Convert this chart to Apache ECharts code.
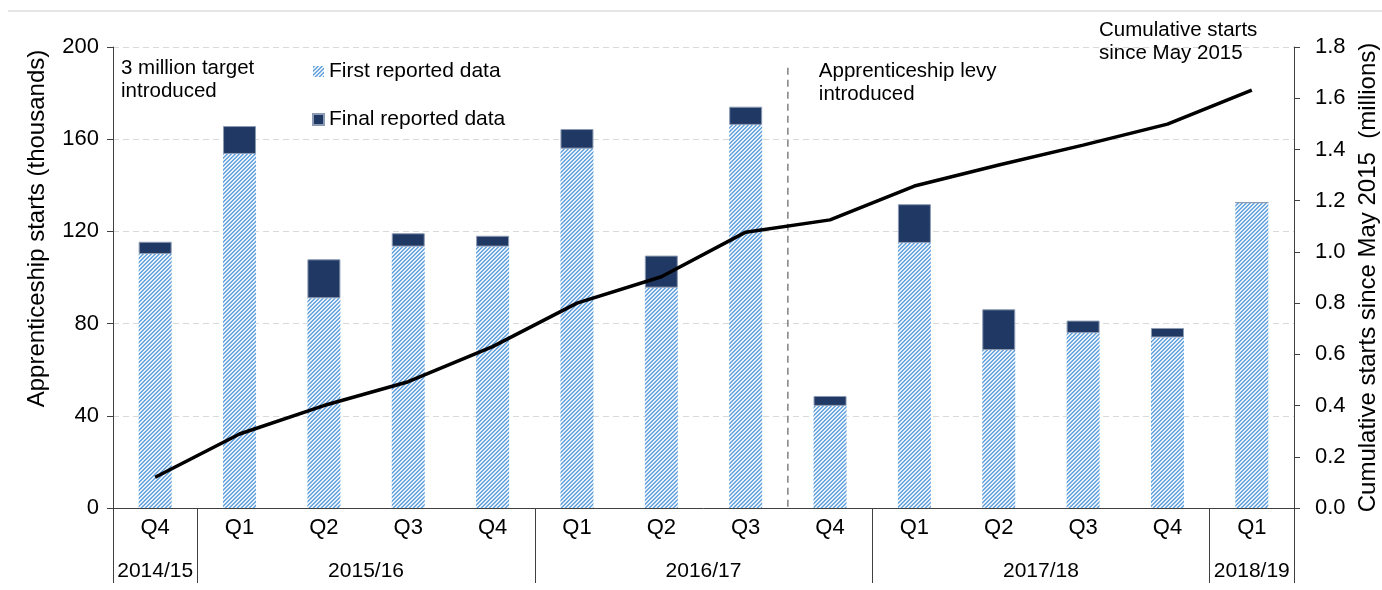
<!DOCTYPE html>
<html>
<head>
<meta charset="utf-8">
<script src="https://cdn.jsdelivr.net/npm/echarts@6/dist/echarts.min.js"></script>
<style>
  html, body { margin: 0; background: #fff; }
  #chart { width: 1382px; height: 590px; }
</style>
</head>
<body>
<div id="chart"></div>
<script>
// quarter labels (first level of the x axis)
var quarters = ['Q4', 'Q1', 'Q2', 'Q3', 'Q4', 'Q1', 'Q2', 'Q3', 'Q4', 'Q1', 'Q2', 'Q3', 'Q4', 'Q1'];
// financial years (second level) and how many quarters each one covers
var years = ['2014/15', '2015/16', '2016/17', '2017/18', '2018/19'];
var yearSpans = [1, 4, 4, 4, 1];
// apprenticeship starts, thousands
var firstReported = [110.2, 153.6, 91.0, 113.4, 113.4, 155.9, 95.6, 166.2, 44.3, 115.0, 68.5, 75.9, 74.0, 132.5];
var finalReported = [115.5, 165.7, 107.9, 119.2, 118.1, 164.4, 109.5, 174.1, 48.6, 131.8, 86.2, 81.3, 78.1, null];
// cumulative starts since May 2015, millions
var cumulative = [0.12, 0.289, 0.40, 0.493, 0.63, 0.80, 0.903, 1.077, 1.125, 1.257, 1.339, 1.417, 1.499, 1.632];

var FONT = '"Liberation Sans", Arial, sans-serif';
var TXT = '#000';

// the part that was added between first and final reporting
var revision = firstReported.map(function (v, i) {
  return finalReported[i] == null ? 0 : +(finalReported[i] - v).toFixed(1);
});

// year label positions / separators on a value axis running -0.5 .. n-0.5
var yearCenters = [], yearBounds = [-0.5], pos = -0.5;
yearSpans.forEach(function (s) {
  yearCenters.push(pos + s / 2);
  pos += s;
  yearBounds.push(pos);
});

// diagonal hatch used for the first reported bars, 2px blue / 2px light
function hatch() {
  var c = document.createElement('canvas');
  c.width = 4; c.height = 4;
  var ctx = c.getContext('2d');
  for (var x = 0; x < 4; x++) {
    for (var y = 0; y < 4; y++) {
      var k = (x + y) % 4;
      ctx.fillStyle = k === 0 ? '#5f9fdb' : k === 1 ? '#86b8e6' : k === 2 ? '#f4f8fd' : '#d6e6f6';
      ctx.fillRect(x, y, 1, 1);
    }
  }
  return c;
}

var chart = echarts.init(document.getElementById('chart'));

var option = {
  animation: false,
  textStyle: { fontFamily: FONT, color: TXT },
  grid: { left: 113, right: 88, top: 47, bottom: 82, outerBoundsMode: 'none', containLabel: false },
  legend: {
    orient: 'vertical',
    left: 307,
    top: 56,
    itemGap: 27,
    itemWidth: 11,
    itemHeight: 11,
    icon: 'rect',
    textStyle: { fontFamily: FONT, fontSize: 21, color: TXT },
    data: ['First reported data', 'Final reported data']
  },
  xAxis: [
    {
      type: 'category',
      data: quarters,
      axisLine: { lineStyle: { color: '#404040', width: 1 } },
      axisTick: { show: false },
      axisLabel: { fontSize: 22, color: TXT, margin: 9, interval: 0 }
    },
    {
      type: 'value',
      position: 'bottom',
      min: -0.5,
      max: quarters.length - 0.5,
      axisLine: { show: false },
      splitLine: { show: false },
      axisTick: {
        show: true,
        customValues: yearBounds,
        length: 75,
        lineStyle: { color: '#404040', width: 1 }
      },
      axisLabel: {
        customValues: yearCenters,
        fontSize: 21,
        color: TXT,
        margin: 53,
        formatter: function (v) {
          var i = yearCenters.indexOf(v);
          return i < 0 ? '' : years[i];
        }
      }
    }
  ],
  yAxis: [
    {
      type: 'value',
      min: 0,
      max: 200,
      interval: 40,
      name: 'Apprenticeship starts (thousands)',
      nameLocation: 'middle',
      nameGap: 64,
      nameRotate: 90,
      nameTextStyle: { fontSize: 24, color: TXT, padding: [0, 0, 0, 98] },
      axisLine: { show: true, onZero: false, lineStyle: { color: '#404040' } },
      axisTick: { show: true, length: 6, lineStyle: { color: '#404040' } },
      axisLabel: { fontSize: 22, color: TXT, margin: 14 },
      splitLine: { lineStyle: { color: '#d9d9d9', type: [6, 4], width: 1 } }
    },
    {
      type: 'value',
      min: 0,
      max: 1.8,
      interval: 0.2,
      position: 'right',
      name: 'Cumulative starts since May 2015  (millions)',
      nameLocation: 'middle',
      nameGap: 58,
      nameRotate: 90,
      nameTextStyle: { fontSize: 24, color: TXT },
      axisLine: { show: true, onZero: false, lineStyle: { color: '#404040' } },
      axisTick: { show: true, length: 6, lineStyle: { color: '#404040' } },
      axisLabel: {
        fontSize: 22, color: TXT, margin: 21,
        formatter: function (v) { return v.toFixed(1); }
      },
      splitLine: { show: false }
    }
  ],
  series: [
    {
      name: 'First reported data',
      type: 'bar',
      stack: 'starts',
      barWidth: 33,
      itemStyle: { color: { image: hatch(), repeat: 'repeat' } },
      data: firstReported
    },
    {
      name: 'Final reported data',
      type: 'bar',
      stack: 'starts',
      barWidth: 33,
      itemStyle: { color: '#203864', borderColor: '#8c9bb3', borderWidth: 1 },
      data: revision
    },
    {
      name: 'Cumulative starts',
      type: 'line',
      yAxisIndex: 1,
      data: cumulative,
      showSymbol: false,
      symbol: 'none',
      lineStyle: { color: '#000', width: 3.5 },
      z: 5
    }
  ]
};

chart.setOption(option);

// levy introduced between Q3 and Q4 of 2016/17
var xa = chart.convertToPixel({ xAxisIndex: 0 }, 7);
var xb = chart.convertToPixel({ xAxisIndex: 0 }, 8);
var levyX = (xa + xb) / 2;
var yBottom = chart.convertToPixel({ yAxisIndex: 0 }, 0);
var yTop = chart.convertToPixel({ yAxisIndex: 0 }, 191);

var annStyle = { fontFamily: FONT, fontSize: 20.5, fill: TXT, lineHeight: 23 };

chart.setOption({
  graphic: [
    {
      type: 'line', silent: true,
      shape: { x1: 8, y1: 11, x2: 1382, y2: 11 },
      style: { stroke: '#e6e6e6', lineWidth: 2 }
    },
    {
      type: 'line', silent: true,
      shape: { x1: levyX, y1: yTop, x2: levyX, y2: yBottom },
      style: { stroke: '#808080', lineWidth: 1.5, lineDash: [7, 5] }
    },
    {
      type: 'text', left: 121, top: 57,
      style: Object.assign({ text: '3 million target\nintroduced' }, annStyle)
    },
    {
      type: 'text', left: levyX + 31, top: 60,
      style: Object.assign({ text: 'Apprenticeship levy\nintroduced' }, annStyle)
    },
    {
      type: 'text', left: 1099, top: 19,
      style: Object.assign({ text: 'Cumulative starts\nsince May 2015' }, annStyle)
    }
  ]
});
</script>
</body>
</html>
